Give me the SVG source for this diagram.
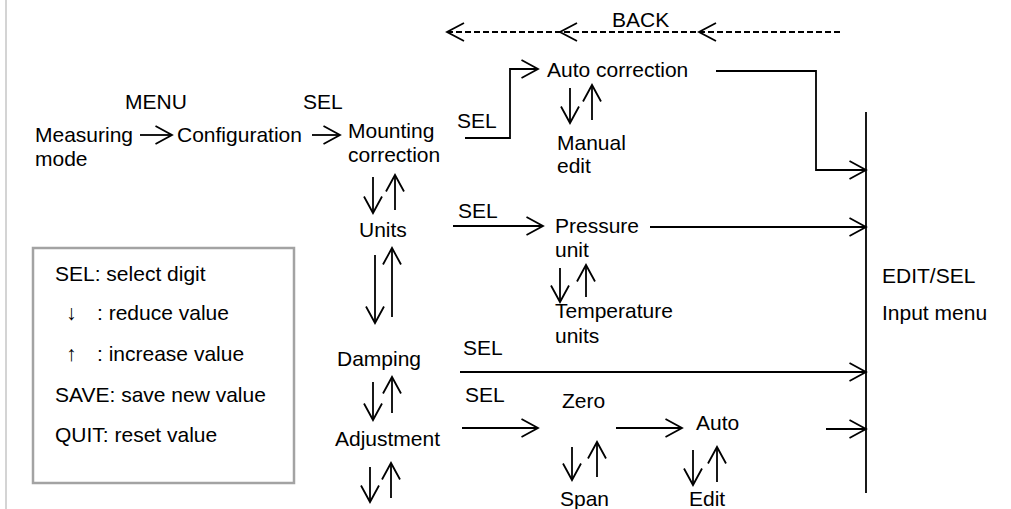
<svg xmlns="http://www.w3.org/2000/svg" width="1011" height="509" viewBox="0 0 1011 509">
<style>
text{font-family:"Liberation Sans",Arial,sans-serif;font-size:21px;fill:#000}
.c line,.c path{stroke:#000;stroke-width:1.8;fill:none}
.a{marker-end:url(#ah)}
.d{stroke-dasharray:6,3}
</style>
<defs>
<marker id="ah" markerUnits="userSpaceOnUse" viewBox="0 0 20 20" markerWidth="20" markerHeight="20" refX="17.5" refY="10" orient="auto" overflow="visible">
<path d="M1,1 L17.5,10 L1,19" fill="none" stroke="#000" stroke-width="1.8"/>
</marker>
</defs>
<rect width="1011" height="509" fill="#fff"/>
<line x1="6" y1="0" x2="6" y2="509" stroke="#d4d4d4" stroke-width="2"/>

<g id="legend">
<rect x="33" y="248" width="261" height="235" fill="none" stroke="#a3a3a3" stroke-width="2.5"/>
<text x="55" y="281">SEL: select digit</text>
<text x="66" y="320">↓</text><text x="97" y="320">: reduce value</text>
<text x="66" y="361">↑</text><text x="97" y="361">: increase value</text>
<text x="55" y="402">SAVE: save new value</text>
<text x="55" y="442">QUIT: reset value</text>
</g>

<g id="measuring"><text x="35" y="142">Measuring</text><text x="35" y="166">mode</text></g>
<g id="menu-label"><text x="125" y="109">MENU</text></g>
<g id="configuration"><text x="177" y="142">Configuration</text></g>
<g id="sel-label"><text x="303" y="109">SEL</text></g>
<g id="mounting"><text x="348" y="138">Mounting</text><text x="348" y="162">correction</text></g>
<g id="sel-mounting"><text x="457" y="128">SEL</text></g>
<g id="auto-correction"><text x="547" y="77">Auto correction</text></g>
<g id="manual-edit"><text x="557" y="150">Manual</text><text x="557" y="173">edit</text></g>
<g id="back"><text x="612" y="27">BACK</text></g>
<g id="units"><text x="359" y="237">Units</text></g>
<g id="sel-units"><text x="458" y="218">SEL</text></g>
<g id="pressure"><text x="555" y="233">Pressure</text><text x="555" y="257">unit</text></g>
<g id="temperature"><text x="555" y="318">Temperature</text><text x="555" y="343">units</text></g>
<g id="damping"><text x="337" y="366">Damping</text></g>
<g id="sel-damping"><text x="463" y="355">SEL</text></g>
<g id="adjustment"><text x="335" y="446">Adjustment</text></g>
<g id="sel-adjust"><text x="465" y="402">SEL</text></g>
<g id="zero"><text x="562" y="408">Zero</text></g>
<g id="span"><text x="560" y="506">Span</text></g>
<g id="auto"><text x="696" y="430">Auto</text></g>
<g id="edit"><text x="689" y="506">Edit</text></g>
<g id="input-menu"><text x="882" y="283">EDIT/SEL</text><text x="882" y="320">Input menu</text></g>

<g id="connectors" class="c">
<line class="a" x1="140" y1="135" x2="172" y2="135"/>
<line class="a" x1="312" y1="135" x2="340" y2="135"/>
<path class="a" d="M465,138 H510 V69 H538"/>
<path class="a" d="M716,71 H816 V170 H866"/>
<line x1="866" y1="112" x2="866" y2="493"/>
<line class="a" x1="453" y1="226" x2="543" y2="226"/>
<line class="a" x1="650" y1="227" x2="866" y2="227"/>
<line class="a" x1="460" y1="372" x2="866" y2="372"/>
<line class="a" x1="462" y1="428" x2="538" y2="428"/>
<line class="a" x1="616" y1="428" x2="682" y2="428"/>
<line class="a" x1="826" y1="429" x2="866" y2="429"/>
<line class="d" x1="447" y1="32" x2="843" y2="32"/>
<path d="M464,23 L447,32 L464,41 M577,23 L560,32 L577,41 M716,23 L699,32 L716,41"/>
<line class="a" x1="373" y1="177" x2="373" y2="213"/>
<line class="a" x1="395" y1="210" x2="395" y2="175"/>
<line class="a" x1="570" y1="88" x2="570" y2="123"/>
<line class="a" x1="592" y1="120" x2="592" y2="85"/>
<line class="a" x1="375" y1="255" x2="375" y2="323"/>
<line class="a" x1="392" y1="317" x2="392" y2="248"/>
<line class="a" x1="560" y1="268" x2="560" y2="302"/>
<line class="a" x1="586" y1="297" x2="586" y2="265"/>
<line class="a" x1="373" y1="382" x2="373" y2="420"/>
<line class="a" x1="392" y1="413" x2="392" y2="377"/>
<line class="a" x1="572" y1="447" x2="572" y2="480"/>
<line class="a" x1="597" y1="477" x2="597" y2="442"/>
<line class="a" x1="693" y1="450" x2="693" y2="485"/>
<line class="a" x1="717" y1="482" x2="717" y2="447"/>
<line class="a" x1="370" y1="467" x2="370" y2="502"/>
<line class="a" x1="391" y1="498" x2="391" y2="463"/>
</g>
</svg>
